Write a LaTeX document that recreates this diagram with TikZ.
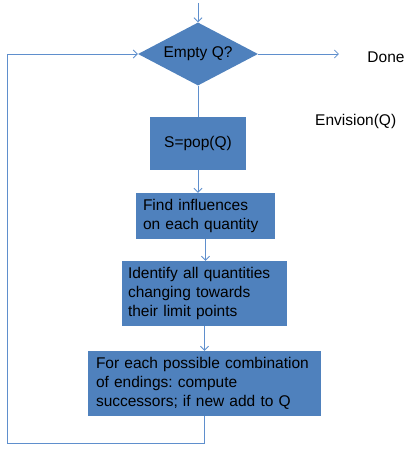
\documentclass[tikz,border=0pt]{standalone}
\usepackage{fontspec}
\setmainfont{Liberation Sans}
\usetikzlibrary{shapes.geometric,arrows.meta}
\definecolor{boxblue}{RGB}{79,129,189}
\definecolor{linkblue}{RGB}{95,143,205}
\frenchspacing
\begin{document}
\begin{tikzpicture}[x=1pt,y=-1pt,
  every node/.style={font=\fontsize{15.5}{19}\selectfont, text=black},
  stepbox/.style={rectangle, fill=boxblue, inner ysep=0pt},
  link/.style={draw=linkblue, line width=0.8pt},
  tip/.style={-{Straight Barb[length=4pt,width=8pt]}}]
\useasboundingbox (0,0) rectangle (406,449);

% decision
\node[diamond, fill=boxblue, aspect=1.9, inner sep=0pt,
      minimum width=120pt, minimum height=63pt] (empty) at (198,54) {Empty Q?};
\node (done) at (386,57) {Done};
\node[anchor=west, inner sep=0pt] (env) at (315,121) {Envision(Q)};

% processing steps
\node[stepbox, minimum width=96pt, minimum height=53pt] (pop) at (198,143.5) {S=pop(Q)};
\node[stepbox, inner xsep=7pt, text width=125pt, align=left,
      minimum width=139pt, minimum height=46pt] (infl) at (205.5,216)
  {Find influences\\on each quantity};
\node[stepbox, inner xsep=6pt, text width=153pt, align=left,
      minimum width=165pt, minimum height=65pt] (ident) at (204.5,293.5)
  {Identify all quantities\\changing towards\\their limit points};
\node[stepbox, inner xsep=8pt, text width=217pt, align=left,
      minimum width=233pt, minimum height=65pt] (each) at (204.5,383.5)
  {For each possible combination\\of endings: compute\\successors; if new add to Q};

% connectors
\coordinate (entry) at (197,3);
\coordinate (loopbl) at (7,443);
\draw[link,tip] (empty.north |- entry) -- (empty.north);
\draw[link,tip,shorten >=25pt] (empty.east) -- (empty.east -| done.west);
\draw[link] (empty.south) -- (pop.north);
\draw[link,tip] (pop.south) -- (pop.south |- infl.north);
\draw[link,tip] (infl.south) -- (infl.south |- ident.north);
\draw[link,tip] (ident.south) -- (ident.south |- each.north);
\draw[link,tip] (each.south) |- (loopbl) |- (empty.west);
\end{tikzpicture}
\end{document}
